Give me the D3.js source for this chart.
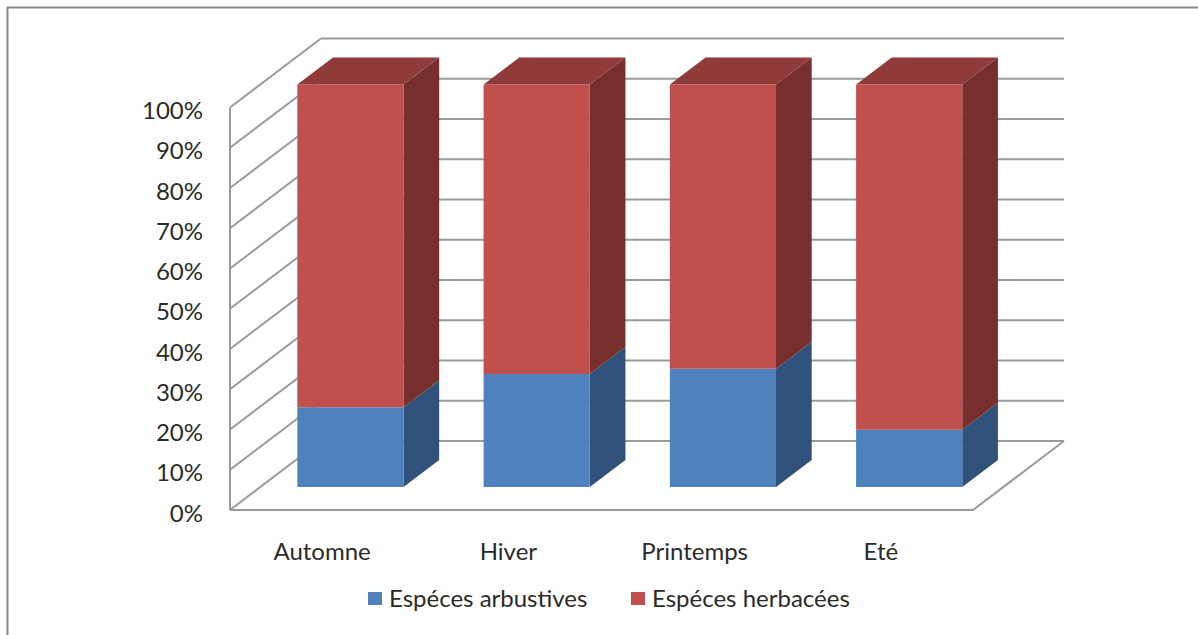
<!DOCTYPE html>
<html>
<head>
<meta charset="utf-8">
<script src="https://cdn.jsdelivr.net/npm/d3@7/dist/d3.min.js"></script>
<style>
  html, body { margin: 0; padding: 0; background: #fff; }
  svg { display: block; }
  text { font-family: Lato, "Open Sans", sans-serif; fill: #2b2b2b; }
</style>
</head>
<body>
<svg id="chart" width="1198" height="635"></svg>
<script>
// Seasons and the share (%) of each plant type per season
const seasons = ["Automne", "Hiver", "Printemps", "Eté"];
const arbustives = [19.8, 28.1, 29.4, 14.2];
const herbacees = [80.2, 71.9, 70.6, 85.8];
const seriesNames = ["Espéces arbustives", "Espéces herbacées"];
const tickValues = [0, 10, 20, 30, 40, 50, 60, 70, 80, 90, 100];
const tickLabels = ["0%", "10%", "20%", "30%", "40%", "50%", "60%", "70%", "80%", "90%", "100%"];

const colors = {
  arb: { front: "#4F81BD", side: "#30527A", top: "#3E6A9E" },
  herb: { front: "#C0504D", side: "#772F2D", top: "#8E3B39" }
};

const svg = d3.select("#chart");

// Front plane of the 3D box
const plotLeft = 230, plotRight = 973;
const y = d3.scaleLinear().domain([0, 100]).range([510, 107.5]);
const x = d3.scaleBand().domain(seasons).range([227, 972])
  .paddingInner(0.43).paddingOuter(0.215);

// Oblique depth projection: z = 0 front, z = 1 back wall
const DX = 91, DY = -69;
const P = (px, v, z) => [px + z * DX, y(v) + z * DY];
const zFront = 0.333, zBack = 0.725;

// Outer frame
svg.append("rect")
  .attr("x", 7.5).attr("y", 7.5).attr("width", 1200).attr("height", 640)
  .attr("fill", "none").attr("stroke", "#8a8a8a").attr("stroke-width", 2);

const grid = svg.append("g").attr("stroke", "#9a9a9a").attr("stroke-width", 2).attr("fill", "none");
const line = d3.line();

// Back wall gridlines and side wall gridlines
tickValues.forEach(v => {
  grid.append("path").attr("d", line([P(plotLeft, v, 1), P(plotRight, v, 1)]));
  grid.append("path").attr("d", line([P(plotLeft, v, 0), P(plotLeft, v, 1)]));
});
// Vertical axis line and floor edges
grid.append("path").attr("d", line([P(plotLeft, 0, 0), P(plotLeft, 100, 0)]));
grid.append("path").attr("d", line([P(plotLeft, 0, 0), P(plotRight, 0, 0), P(plotRight, 0, 1)]));

// Y tick labels
svg.append("g").selectAll("text")
  .data(tickValues)
  .join("text")
  .attr("x", 203)
  .attr("y", d => y(d) + 2)
  .attr("text-anchor", "end")
  .attr("dominant-baseline", "central")
  .attr("font-size", 24)
  .text((d, i) => tickLabels[i]);

// Draws one box segment of a bar between two values
function box(g, cat, v0, v1, c, withTop) {
  const xl = x(cat), xr = x(cat) + x.bandwidth();
  const poly = pts => g.append("polygon").attr("points", pts.map(p => p.join(",")).join(" "));
  poly([P(xr, v0, zFront), P(xr, v0, zBack), P(xr, v1, zBack), P(xr, v1, zFront)]).attr("fill", c.side);
  poly([P(xl, v0, zFront), P(xr, v0, zFront), P(xr, v1, zFront), P(xl, v1, zFront)]).attr("fill", c.front);
  if (withTop) {
    poly([P(xl, v1, zFront), P(xr, v1, zFront), P(xr, v1, zBack), P(xl, v1, zBack)]).attr("fill", c.top);
  }
}

const bars = svg.append("g");
seasons.forEach((s, i) => {
  const g = bars.append("g");
  box(g, s, 0, arbustives[i], colors.arb, false);
  box(g, s, arbustives[i], arbustives[i] + herbacees[i], colors.herb, true);
});

// Category labels
svg.append("g").selectAll("text")
  .data(seasons)
  .join("text")
  .attr("x", d => x(d) + x.bandwidth() / 2 + 2)
  .attr("y", 560)
  .attr("text-anchor", "middle")
  .attr("font-size", 24)
  .text(d => d);

// Legend
const legend = svg.append("g");
const legendX = [368, 631];
[colors.arb.front, colors.herb.front].forEach((col, i) => {
  legend.append("rect").attr("x", legendX[i]).attr("y", 592)
    .attr("width", 14).attr("height", 13).attr("fill", col);
  legend.append("text").attr("x", legendX[i] + 21).attr("y", 607)
    .attr("font-size", 24).text(seriesNames[i]);
});
</script>
</body>
</html>
